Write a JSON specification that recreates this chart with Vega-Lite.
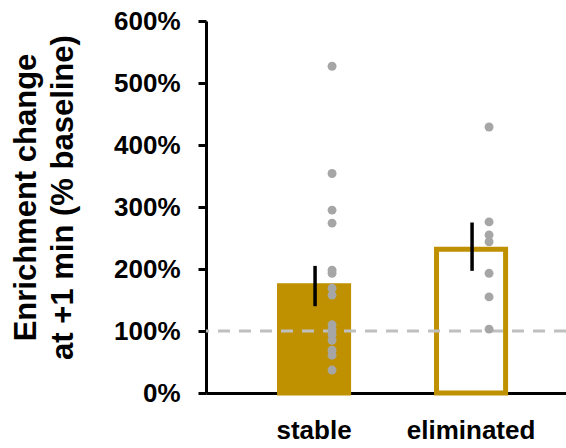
{
  "$schema": "https://vega.github.io/schema/vega-lite/v6.json",
  "width": 360,
  "height": 372,
  "autosize": {"type": "none"},
  "padding": {"left": 206, "top": 21, "right": 0, "bottom": 55},
  "background": "white",
  "config": {
    "view": {"stroke": null},
    "font": "Liberation Sans"
  },
  "datasets": {
    "bars": [
      {"group": "stable", "mean": 1.73, "lo": 1.40, "hi": 2.05},
      {"group": "eliminated", "mean": 2.32, "lo": 1.97, "hi": 2.75}
    ],
    "points": [
      {"group": "stable", "value": 5.27},
      {"group": "stable", "value": 3.54},
      {"group": "stable", "value": 2.95},
      {"group": "stable", "value": 2.74},
      {"group": "stable", "value": 1.98},
      {"group": "stable", "value": 1.93},
      {"group": "stable", "value": 1.69},
      {"group": "stable", "value": 1.58},
      {"group": "stable", "value": 1.10},
      {"group": "stable", "value": 1.02},
      {"group": "stable", "value": 0.94},
      {"group": "stable", "value": 0.85},
      {"group": "stable", "value": 0.69},
      {"group": "stable", "value": 0.61},
      {"group": "stable", "value": 0.37},
      {"group": "eliminated", "value": 4.29},
      {"group": "eliminated", "value": 2.76},
      {"group": "eliminated", "value": 2.55},
      {"group": "eliminated", "value": 2.44},
      {"group": "eliminated", "value": 1.93},
      {"group": "eliminated", "value": 1.55},
      {"group": "eliminated", "value": 1.03}
    ]
  },
  "encoding": {
    "x": {
      "field": "group",
      "type": "nominal",
      "sort": ["stable", "eliminated"],
      "scale": {"paddingInner": 0.56, "paddingOuter": 0.4265, "align": 0.549},
      "axis": {
        "title": null,
        "labelAngle": 0,
        "labelFontSize": 26,
        "labelFontWeight": "bold",
        "labelColor": "black",
        "labelPadding": 24,
        "ticks": false,
        "domainColor": "black",
        "domainWidth": 3
      }
    }
  },
  "layer": [
    {
      "data": {"name": "bars"},
      "mark": {"type": "bar", "stroke": "#BF9000", "strokeWidth": 5},
      "encoding": {
        "y": {
          "field": "mean",
          "type": "quantitative",
          "scale": {"domain": [0, 6], "nice": false},
          "axis": {
            "title": ["Enrichment change", "at +1 min (% baseline)"],
            "titleFontSize": 31,
            "titleFontWeight": "bold",
            "titleColor": "black",
            "titlePadding": 34,
            "titleLineHeight": 37,
            "titleY": 176,
            "values": [0, 1, 2, 3, 4, 5, 6],
            "format": ".0%",
            "labelFontSize": 26,
            "labelFontWeight": "bold",
            "labelColor": "black",
            "labelPadding": 18,
            "tickColor": "black",
            "tickWidth": 3,
            "tickSize": 8,
            "domainColor": "black",
            "domainWidth": 3,
            "grid": false
          }
        },
        "fill": {
          "field": "group",
          "type": "nominal",
          "scale": {"domain": ["stable", "eliminated"], "range": ["#BF9000", "white"]},
          "legend": null
        }
      }
    },
    {
      "data": {"values": [{"baseline": 1}]},
      "mark": {"type": "rule", "color": "#BFBFBF", "strokeWidth": 3, "strokeDash": [12, 9]},
      "encoding": {
        "x": null,
        "y": {"field": "baseline", "type": "quantitative"}
      }
    },
    {
      "data": {"name": "bars"},
      "mark": {"type": "rule", "color": "black", "strokeWidth": 3.5, "xOffset": 1},
      "encoding": {
        "y": {"field": "lo", "type": "quantitative"},
        "y2": {"field": "hi"}
      }
    },
    {
      "data": {"name": "points"},
      "mark": {"type": "circle", "color": "#A6A6A6", "opacity": 1, "size": 80, "xOffset": 18},
      "encoding": {
        "y": {"field": "value", "type": "quantitative"}
      }
    }
  ]
}
